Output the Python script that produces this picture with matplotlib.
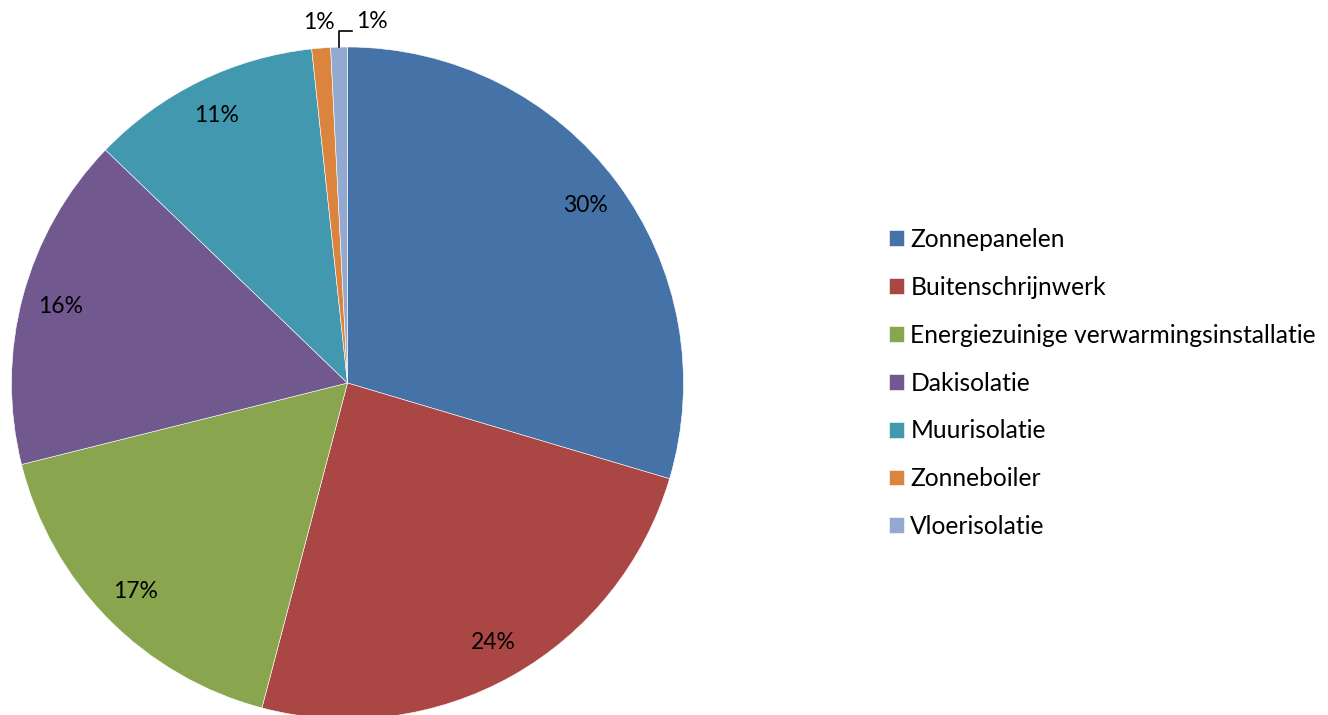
import numpy as np
import matplotlib.pyplot as plt

plt.rcParams['font.family'] = ['Lato', 'DejaVu Sans']

categories = ["Zonnepanelen", "Buitenschrijnwerk", "Energiezuinige verwarmingsinstallatie",
              "Dakisolatie", "Muurisolatie", "Zonneboiler", "Vloerisolatie"]
values = [29.6, 24.5, 17.0, 16.1, 11.1, 0.9, 0.8]
labels = ["30%", "24%", "17%", "16%", "11%", "1%", "1%"]
colors = ["#4572A7", "#AA4643", "#89A54E", "#71588F", "#4198AF", "#DB843D", "#93A9CF"]

W, H = 1328, 715
fig = plt.figure(figsize=(W / 100, H / 100), dpi=100)
ax = fig.add_axes([0, 0, 1, 1])
ax.set_aspect('equal')

cx, cy, R = 347.5, H - 383, 336
wedges, _ = ax.pie(values, colors=colors, startangle=90, counterclock=False,
                   center=(cx, cy), radius=R, frame=True,
                   wedgeprops=dict(edgecolor='white', linewidth=0.4))
ax.set_xlim(0, W)
ax.set_ylim(0, H)
ax.axis('off')

fs = 16.5
for i, (w, txt) in enumerate(zip(wedges, labels)):
    mid = np.deg2rad((w.theta1 + w.theta2) / 2)
    v = values[i]
    if v > 5:
        x = cx + 0.885 * R * np.cos(mid)
        y = cy + 0.885 * R * np.sin(mid)
        ax.text(x, y, txt, ha='center', va='center', fontsize=fs, color='black')
    elif i == len(values) - 1:
        # leader line for the last small slice
        ex, ey = cx + R * np.cos(mid), cy + R * np.sin(mid)
        ax.plot([ex, ex, ex + 13], [ey, ey + 16, ey + 16], color='black', lw=1.2)
        ax.text(ex + 17, ey + 15, txt, ha='left', va='bottom', fontsize=fs)
    else:
        x = cx + 1.075 * R * np.cos(mid)
        y = cy + 1.075 * R * np.sin(mid)
        ax.text(x, y, txt, ha='center', va='center', fontsize=fs)

ax.legend(wedges, categories, loc='center left',
          bbox_to_anchor=(889 / W, 1 - 383 / H), bbox_transform=fig.transFigure,
          frameon=False, fontsize=17.7, handlelength=0.62, handleheight=0.62,
          handletextpad=0.25, labelspacing=1.01, borderpad=0, borderaxespad=0)

fig.savefig("out.png", dpi=100)
